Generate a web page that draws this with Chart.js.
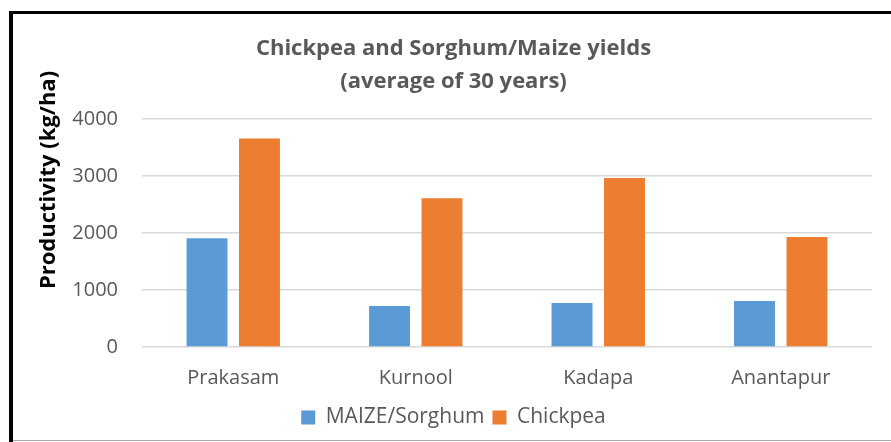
<!DOCTYPE html>
<html>
<head>
<meta charset="utf-8">
<script src="https://cdn.jsdelivr.net/npm/chart.js@4/dist/chart.umd.min.js"></script>
<style>
  html, body { margin: 0; padding: 0; background: #fff; }
  #wrap { position: relative; width: 891px; height: 442px; }
</style>
</head>
<body>
<div id="wrap"><canvas id="c" width="891" height="442"></canvas></div>
<script>
const categories = ["Prakasam", "Kurnool", "Kadapa", "Anantapur"];
const maizeSorghum = [1910, 720, 770, 805];
const chickpea = [3660, 2610, 2965, 1930];
const seriesNames = ["MAIZE/Sorghum", "Chickpea"];
const titleLines = ["Chickpea and Sorghum/Maize yields", "(average of 30 years)"];
const yAxisTitle = "Productivity (kg/ha)";

const FONT = "'Open Sans', 'Noto Sans', sans-serif";

const frame = {
  id: 'frame',
  afterDraw(chart) {
    const ctx = chart.ctx;
    ctx.save();
    ctx.fillStyle = '#000';
    ctx.fillRect(9, 11, 882, 3);
    ctx.fillRect(9, 11, 4, 431);
    ctx.fillStyle = '#a6a6a6';
    ctx.fillRect(13, 440, 878, 1);
    // y-axis title (placed as in the reference, above the plot centre)
    ctx.translate(49, 180);
    ctx.rotate(-Math.PI / 2);
    ctx.fillStyle = '#000';
    ctx.font = "bold 22px " + FONT;
    ctx.textAlign = 'center';
    ctx.textBaseline = 'middle';
    ctx.fillText(yAxisTitle, 0, 0);
    ctx.restore();
  }
};

new Chart(document.getElementById('c'), {
  type: 'bar',
  data: {
    labels: categories,
    datasets: [
      { label: seriesNames[0], data: maizeSorghum, backgroundColor: '#5B9BD5',
        categoryPercentage: 0.575, barPercentage: 0.78 },
      { label: seriesNames[1], data: chickpea, backgroundColor: '#ED7D31',
        categoryPercentage: 0.575, barPercentage: 0.78 }
    ]
  },
  options: {
    responsive: false,
    animation: false,
    events: [],
    layout: { padding: { left: 35, right: 19, top: 14, bottom: 4 } },
    plugins: {
      title: {
        display: true,
        text: titleLines,
        color: '#595959',
        font: { family: FONT, size: 22, weight: 'bold', lineHeight: 1.5 },
        padding: { top: 18, bottom: 21 }
      },
      legend: {
        position: 'bottom',
        labels: {
          color: '#595959',
          font: { family: FONT, size: 21 },
          boxWidth: 14, boxHeight: 14,
          padding: 8
        }
      },
      tooltip: { enabled: false }
    },
    scales: {
      x: {
        grid: { display: false, drawTicks: false },
        border: { display: false },
        ticks: { color: '#595959', font: { family: FONT, size: 20 }, padding: 19 },
        afterFit: (s) => { s.height = 52; }
      },
      y: {
        min: 0, max: 4000,
        ticks: { stepSize: 1000, color: '#595959', font: { family: FONT, size: 20 }, padding: 24,
                 callback: (v) => String(v) },
        grid: { color: '#d9d9d9', lineWidth: 1.5, drawTicks: false },
        border: { display: false },
        afterFit: (s) => { s.width = 107; }
      }
    }
  },
  plugins: [frame]
});
</script>
</body>
</html>
